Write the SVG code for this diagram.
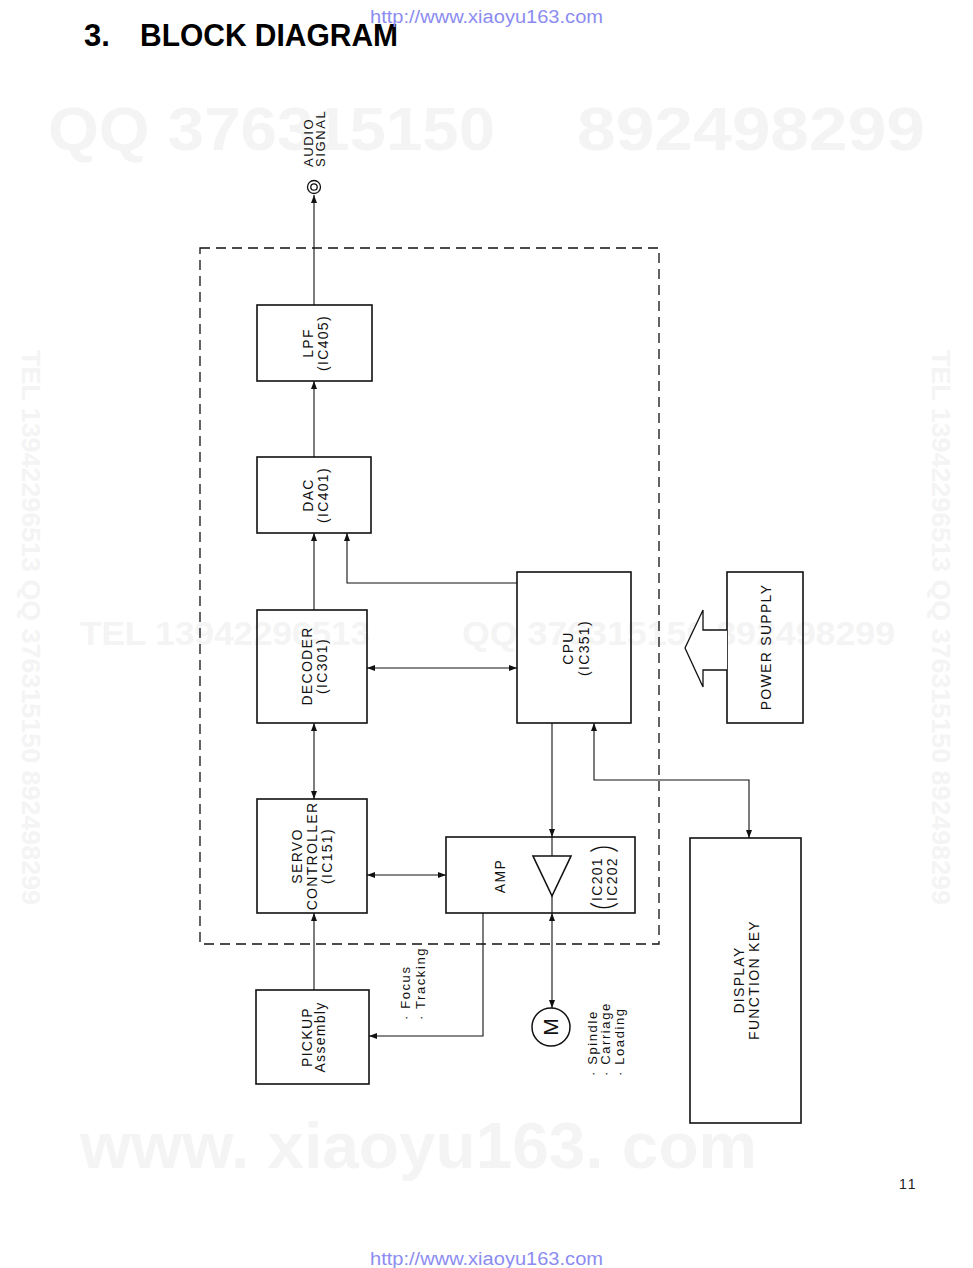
<svg xmlns="http://www.w3.org/2000/svg" width="973" height="1268" viewBox="0 0 973 1268">
<style>
.wm{font-family:"Liberation Sans",Arial,sans-serif;font-weight:bold;fill:#f4f4f4}
.url{font-family:"Liberation Sans",Arial,sans-serif;font-size:18px;fill:#8c8cf0}
.t{font-family:"Liberation Sans",Arial,sans-serif;font-size:14px;letter-spacing:1.3px;fill:#111;text-anchor:middle}
.s{font-family:"Liberation Sans",Arial,sans-serif;font-size:13px;letter-spacing:1.6px;fill:#111}
.box{fill:none;stroke:#111;stroke-width:1.6}
.ln{fill:none;stroke:#111;stroke-width:1.1}
.par{font-family:Lato,"Liberation Sans",sans-serif;font-weight:300;font-size:32px;fill:#111}
</style>
<defs>
<marker id="arr" viewBox="0 0 8 6" refX="8" refY="3" markerWidth="8" markerHeight="6" markerUnits="userSpaceOnUse" orient="auto-start-reverse">
<path d="M0,0 L8,3 L0,6 z" fill="#111"/>
</marker>
</defs>
<rect width="973" height="1268" fill="#fff"/>

<g id="watermarks">
<text class="wm" x="48" y="150" font-size="62" textLength="447" lengthAdjust="spacingAndGlyphs">QQ 376315150</text>
<text class="wm" x="577" y="150" font-size="62" textLength="348" lengthAdjust="spacingAndGlyphs">892498299</text>
<text class="wm" x="80" y="645" font-size="34" textLength="290" lengthAdjust="spacingAndGlyphs">TEL 13942296513</text>
<text class="wm" x="462" y="645" font-size="34" textLength="433" lengthAdjust="spacingAndGlyphs">QQ 376315150 892498299</text>
<text class="wm" x="80" y="1168" font-size="64" textLength="677" lengthAdjust="spacingAndGlyphs">www. xiaoyu163. com</text>
<text class="wm" x="22" y="350" font-size="26" textLength="555" lengthAdjust="spacingAndGlyphs" transform="rotate(90 22 350)" fill="#f6f6f6">TEL 13942296513 QQ 376315150 892498299</text>
<text class="wm" x="932" y="350" font-size="26" textLength="555" lengthAdjust="spacingAndGlyphs" transform="rotate(90 932 350)" fill="#f6f6f6">TEL 13942296513 QQ 376315150 892498299</text>
</g>

<g id="header">
<text x="84" y="46" font-family="Liberation Sans,Arial,sans-serif" font-weight="bold" font-size="31" fill="#000">3.</text>
<text x="140" y="46" font-family="Liberation Sans,Arial,sans-serif" font-weight="bold" font-size="31" fill="#000" textLength="258" lengthAdjust="spacingAndGlyphs">BLOCK DIAGRAM</text>
<text class="url" x="370" y="23" textLength="233" lengthAdjust="spacingAndGlyphs">http://www.xiaoyu163.com</text>
<text class="url" x="370" y="1265" textLength="233" lengthAdjust="spacingAndGlyphs">http://www.xiaoyu163.com</text>
<text x="899" y="1189" font-family="Liberation Sans,Arial,sans-serif" font-size="14" fill="#222" letter-spacing="2">11</text>
</g>

<g id="frame">
<rect x="200" y="248" width="459" height="696" fill="none" stroke="#111" stroke-width="1.3" stroke-dasharray="10,6"/>
</g>

<g id="connectors">
<path class="ln" d="M314,305 V195" marker-end="url(#arr)"/>
<path class="ln" d="M314,457 V381" marker-end="url(#arr)"/>
<path class="ln" d="M314,610 V533" marker-end="url(#arr)"/>
<path class="ln" d="M517,583 H347 V533" marker-end="url(#arr)"/>
<path class="ln" d="M367,668 H517" marker-start="url(#arr)" marker-end="url(#arr)"/>
<path class="ln" d="M314,723 V799" marker-start="url(#arr)" marker-end="url(#arr)"/>
<path class="ln" d="M367,875 H446" marker-start="url(#arr)" marker-end="url(#arr)"/>
<path class="ln" d="M552,723 V837" marker-end="url(#arr)"/>
<path class="ln" d="M594,723 V780 H749 V838" marker-start="url(#arr)" marker-end="url(#arr)"/>
<path class="ln" d="M314,990 V913" marker-end="url(#arr)"/>
<path class="ln" d="M483,913 V1036 H369" marker-end="url(#arr)"/>
<path class="ln" d="M552,913 V1008" marker-start="url(#arr)" marker-end="url(#arr)"/>
<path class="ln" d="M552,837 V856 M552,896 V913"/>
</g>

<g id="audio-signal">
<circle cx="314" cy="187" r="6.5" fill="#fff" stroke="#111" stroke-width="1.3"/>
<circle cx="314" cy="187" r="3.2" fill="none" stroke="#111" stroke-width="1.3"/>
<text class="s" x="313" y="167" font-size="12" letter-spacing="2" transform="rotate(-90 313 167)">AUDIO</text>
<text class="s" x="325" y="167" font-size="12" letter-spacing="2" transform="rotate(-90 325 167)">SIGNAL</text>
</g>

<g id="lpf">
<rect class="box" x="257" y="305" width="115" height="76"/>
<text class="t" x="313" y="343" transform="rotate(-90 313 343)">LPF</text>
<text class="t" x="328" y="343" transform="rotate(-90 328 343)">(IC405)</text>
</g>

<g id="dac">
<rect class="box" x="257" y="457" width="114" height="76"/>
<text class="t" x="313" y="495" transform="rotate(-90 313 495)">DAC</text>
<text class="t" x="328" y="495" transform="rotate(-90 328 495)">(IC401)</text>
</g>

<g id="decoder">
<rect class="box" x="257" y="610" width="110" height="113"/>
<text class="t" x="312" y="666" transform="rotate(-90 312 666)">DECODER</text>
<text class="t" x="327" y="666" transform="rotate(-90 327 666)">(IC301)</text>
</g>

<g id="cpu">
<rect class="box" x="517" y="572" width="114" height="151"/>
<text class="t" x="573" y="648" transform="rotate(-90 573 648)">CPU</text>
<text class="t" x="589" y="648" transform="rotate(-90 589 648)">(IC351)</text>
</g>

<g id="servo">
<rect class="box" x="257" y="799" width="110" height="114"/>
<text class="t" x="302" y="856" transform="rotate(-90 302 856)">SERVO</text>
<text class="t" x="317" y="856" transform="rotate(-90 317 856)">CONTROLLER</text>
<text class="t" x="332" y="856" transform="rotate(-90 332 856)">(IC151)</text>
</g>

<g id="amp">
<rect class="box" x="446" y="837" width="189" height="76"/>
<text class="t" x="505" y="876" transform="rotate(-90 505 876)">AMP</text>
<path d="M533,856 L571,856 L552,896 z" fill="none" stroke="#111" stroke-width="1.6"/>
<text class="t" x="602" y="879" transform="rotate(-90 602 879)">IC201</text>
<text class="t" x="617" y="879" transform="rotate(-90 617 879)">IC202</text>
<text class="par" x="614" y="910" transform="rotate(-90 614 910)">(</text>
<text class="par" x="614" y="853" transform="rotate(-90 614 853)">)</text>
</g>

<g id="pickup">
<rect class="box" x="256" y="990" width="113" height="94"/>
<text class="t" x="312" y="1037" transform="rotate(-90 312 1037)">PICKUP</text>
<text class="t" x="325" y="1037" transform="rotate(-90 325 1037)">Assembly</text>
<text class="s" x="410" y="1020" transform="rotate(-90 410 1020)">· Focus</text>
<text class="s" x="425" y="1020" transform="rotate(-90 425 1020)">· Tracking</text>
</g>

<g id="motor">
<circle cx="551" cy="1027" r="19" fill="none" stroke="#111" stroke-width="1.5"/>
<text x="558" y="1027" font-family="Liberation Sans,Arial,sans-serif" font-size="21" fill="#111" text-anchor="middle" transform="rotate(-90 558 1027)">M</text>
<text class="s" x="597" y="1076" transform="rotate(-90 597 1076)">· Spindle</text>
<text class="s" x="610" y="1076" transform="rotate(-90 610 1076)">· Carriage</text>
<text class="s" x="624" y="1076" transform="rotate(-90 624 1076)">· Loading</text>
</g>

<g id="power-supply">
<rect class="box" x="727" y="572" width="76" height="151"/>
<text class="t" x="771" y="647" transform="rotate(-90 771 647)">POWER  SUPPLY</text>
<path d="M727,630 H703 V610 L685,648 L703,687 V670 H727" fill="#fff" stroke="#111" stroke-width="1.3"/>
</g>

<g id="display">
<rect class="box" x="690" y="838" width="111" height="285"/>
<text class="t" x="744" y="980" transform="rotate(-90 744 980)">DISPLAY</text>
<text class="t" x="759" y="980" transform="rotate(-90 759 980)">FUNCTION  KEY</text>
</g>
</svg>
